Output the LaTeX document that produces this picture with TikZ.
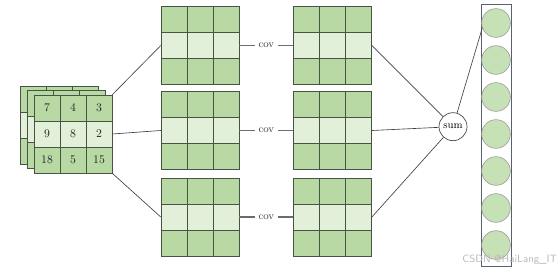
\documentclass[tikz,border=0pt]{standalone}
\usepackage{tikz}
\usetikzlibrary{positioning, calc}
\definecolor{cDark}{RGB}{184,216,164}
\definecolor{cLight}{RGB}{226,239,217}
\definecolor{cEdge}{RGB}{70,84,66}
\definecolor{cBall}{RGB}{199,225,183}
\definecolor{cBox}{RGB}{88,98,110}
\colorlet{cWire}{black!75}
\tikzset{
  mapframe/.style={rectangle, minimum size=2.34cm, inner sep=0pt},
  cnncell/.style={rectangle, draw=cEdge, line width=0.6pt, minimum size=0.78cm,
                  inner sep=0pt, font=\normalsize},
  wire/.style={cWire, line width=0.55pt},
  covwire/.style={gray!85!black, line width=1pt},
  covlabel/.style={fill=white, inner sep=3pt, font=\small, text=black!75},
  sumnode/.style={circle, draw=black!70, line width=0.6pt, fill=white,
                  minimum size=0.84cm, inner sep=0pt, font=\small},
  colbox/.style={rectangle, draw=cBox, line width=0.6pt,
                 minimum width=0.9cm, minimum height=7.86cm, inner sep=0pt},
  ball/.style={circle, draw=gray!80, line width=0.5pt, fill=cBall,
               minimum size=0.86cm, inner sep=0pt},
}
% feature map: name, centre x, centre y
\newcommand{\fmap}[3]{%
  \node[mapframe] (#1) at (#2,#3) {};
  \foreach \r in {0,1,2}
    \foreach \c in {0,1,2}{
      \ifnum\r=1 \def\cellcol{cLight}\else\def\cellcol{cDark}\fi
      \node[cnncell, fill=\cellcol] (#1-\r\c) at ($(#1)+(\c*0.78-0.78,0.78-\r*0.78)$) {};
    }%
}

\begin{document}
\begin{tikzpicture}
  \useasboundingbox (0,0) rectangle (16.8,-8.16);
  % Input stack
  \fmap{inb}{1.77}{-3.75}
  \fmap{inm}{1.98}{-3.885}
  \fmap{in}{2.19}{-4.02}
  \foreach \v/\cell in {7/00, 4/01, 3/02, 9/10, 8/11, 2/12, 18/20, 5/21, 15/22}
    \node[text=black!85] at (in-\cell) {\v};
  % Feature maps
  \fmap{fa}{6.0}{-1.365}
  \fmap{fb}{6.0}{-3.915}
  \fmap{fc}{6.0}{-6.51}
  \fmap{ga}{9.98}{-1.365}
  \fmap{gb}{9.98}{-3.915}
  \fmap{gc}{9.98}{-6.51}
  % Sum and output column
  \node[sumnode] (sum) at (13.59,-3.8) {sum};
  \node[colbox] (col) at (14.88,-4.05) {};
  \foreach \i in {1,...,7}
    \node[ball] (c\i) at (14.88,{-0.69-(\i-1)*1.11}) {};
  % Wires
  \draw[wire] (in.north east) -- (fa.west);
  \draw[wire] (in.east) -- (fb.west);
  \draw[wire] (in.south east) -- (fc.west);
  \draw[covwire] (fa) -- node[covlabel] {cov} (ga);
  \draw[covwire] (fb) -- node[covlabel] {cov} (gb);
  \draw[covwire] (fc) -- node[covlabel] {cov} (gc);
  \draw[wire] (ga.east) -- (sum);
  \draw[wire] (gb.east) -- (sum);
  \draw[wire] (gc.east) -- (sum);
  \draw[wire] (sum) -- (c1.200);
  % Watermark
  \node[font=\sffamily\small, text=gray!55] (mark) at (15.29,-7.8) {CSDN @HaiLang\_IT};
\end{tikzpicture}
\end{document}
